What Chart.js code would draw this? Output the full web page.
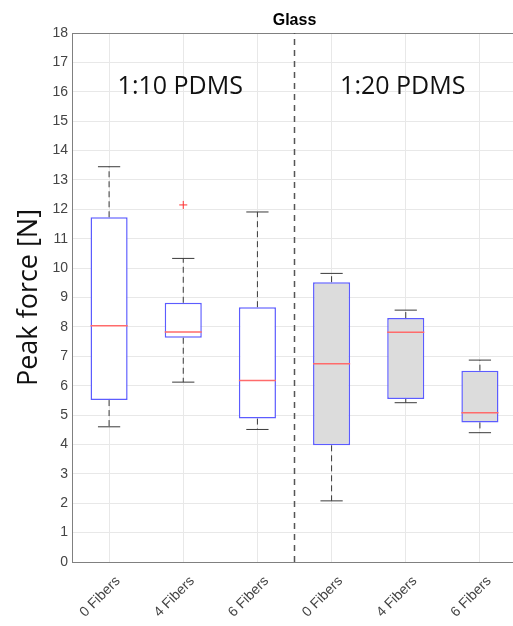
<!DOCTYPE html>
<html>
<head>
<meta charset="utf-8">
<script src="https://cdn.jsdelivr.net/npm/chart.js@4/dist/chart.umd.min.js"></script>
<style>
html,body{margin:0;padding:0;background:#fff;overflow:hidden;width:513px;height:626px;}
canvas{display:block;}
</style>
</head>
<body>
<canvas id="c" width="522" height="626"></canvas>
<script>
// ---- data ----
const categories = ['0 Fibers','4 Fibers','6 Fibers','0 Fibers','4 Fibers','6 Fibers'];
const whiskerLow  = [4.60, 6.12, 4.51, 2.08, 5.42, 4.40];
const quartile1   = [5.51, 7.63, 4.88, 3.97, 5.55, 4.75];
const medians     = [8.04, 7.83, 6.18, 6.75, 7.82, 5.08];
const quartile3   = [11.73, 8.82, 8.67, 9.52, 8.30, 6.51];
const whiskerHigh = [13.45, 10.33, 11.91, 9.82, 8.57, 6.87];
const outliers    = [{group: 2, value: 12.15}];
const groupNames  = ['1:10 PDMS', '1:20 PDMS'];
const groupOfCat  = [0, 0, 0, 1, 1, 1];
const yTicks      = [0,1,2,3,4,5,6,7,8,9,10,11,12,13,14,15,16,17,18];

// ---- styling ----
const BOX_HALF = 0.25, CAP_HALF = 0.15;
const boxFill = groupOfCat.map(g => g === 0 ? '#ffffff' : '#dcdcdc');
const pos = categories.map((c, i) => i + 1);

const medianPts = [], capPts = [], whiskerPts = [];
pos.forEach((x, i) => {
  medianPts.push({x: x - BOX_HALF, y: medians[i]}, {x: x + BOX_HALF, y: medians[i]}, {x: x, y: null});
  capPts.push({x: x - CAP_HALF, y: whiskerHigh[i]}, {x: x + CAP_HALF, y: whiskerHigh[i]}, {x: x, y: null});
  capPts.push({x: x - CAP_HALF, y: whiskerLow[i]}, {x: x + CAP_HALF, y: whiskerLow[i]}, {x: x, y: null});
  whiskerPts.push({x: x, y: quartile3[i]}, {x: x, y: whiskerHigh[i]}, {x: x, y: null});
  whiskerPts.push({x: x, y: quartile1[i]}, {x: x, y: whiskerLow[i]}, {x: x, y: null});
});
const splitX = 3.5;

const textPlugin = {
  id: 'groupText',
  afterDatasetsDraw(chart) {
    const {ctx, scales} = chart;
    ctx.save();
    ctx.fillStyle = '#111';
    ctx.font = '25px "Open Sans", "Noto Sans", sans-serif';
    ctx.textAlign = 'center';
    ctx.textBaseline = 'middle';
    groupNames.forEach((name, g) => {
      const idx = groupOfCat.map((v, i) => v === g ? pos[i] : null).filter(v => v !== null);
      const cx = (idx[0] + idx[idx.length - 1]) / 2;
      ctx.fillText(name, scales.x.getPixelForValue(cx) - 3, scales.y.getPixelForValue(16.18));
    });
    ctx.restore();
  }
};

const sansFont = '"Liberation Sans", Arial, sans-serif';

new Chart(document.getElementById('c'), {
  type: 'bar',
  data: {
    datasets: [
      {
        type: 'line', label: 'medians', data: medianPts, borderColor: '#ff6b6b', borderWidth: 1.5,
        pointRadius: 0, spanGaps: false, order: 0
      },
      {
        type: 'scatter', label: 'outliers',
        data: outliers.map(o => ({x: pos[o.group - 1], y: o.value})),
        pointStyle: 'cross', pointRadius: 4, borderColor: '#ff3030', borderWidth: 1, order: 0
      },
      {
        type: 'bar', label: 'boxes',
        data: pos.map((x, i) => ({x: x, y: [quartile1[i], quartile3[i]]})),
        backgroundColor: boxFill, borderColor: '#5c5cff', borderWidth: 1.5, borderSkipped: false,
        categoryPercentage: 1, barPercentage: 0.5, order: 5
      },
      {
        type: 'line', label: 'caps', data: capPts, borderColor: '#3a3a3a', borderWidth: 1,
        pointRadius: 0, spanGaps: false, order: 6
      },
      {
        type: 'line', label: 'whiskers', data: whiskerPts, borderColor: '#3a3a3a', borderWidth: 1,
        borderDash: [6, 4], pointRadius: 0, spanGaps: false, order: 6
      },
      {
        type: 'line', label: 'split', data: [{x: splitX, y: yTicks[0]}, {x: splitX, y: yTicks[yTicks.length - 1]}],
        borderColor: '#555', borderWidth: 1.5, borderDash: [6, 5], pointRadius: 0, order: 7
      }
    ]
  },
  options: {
    responsive: false,
    animation: false,
    layout: {padding: {left: 0, right: 4, top: 0, bottom: 0}},
    plugins: {
      legend: {display: false},
      tooltip: {enabled: false},
      title: {display: false}
    },
    scales: {
      x: {
        type: 'linear', min: 0.5, max: 6.5, offset: false,
        afterBuildTicks: s => { s.ticks = pos.map(v => ({value: v})); },
        afterFit: s => { s.height = 64; },
        ticks: {
          callback: v => categories[v - 1],
          minRotation: 45, maxRotation: 45, autoSkip: false,
          color: '#444', padding: 11, labelOffset: 9,
          font: {family: sansFont, size: 14}
        },
        grid: {color: '#e8e8e8', drawTicks: false, offset: false},
        border: {color: '#808080', width: 1}
      },
      x2: {
        type: 'linear', position: 'top', min: 0.5, max: 6.5, offset: false,
        afterFit: s => { s.height = 33; },
        ticks: {display: false},
        grid: {display: false, drawTicks: false, offset: false},
        border: {color: '#808080', width: 1},
        title: {
          display: true, text: 'Glass', color: '#000',
          font: {family: sansFont, size: 16, weight: 'bold', lineHeight: 1.2},
          padding: {top: 10.5, bottom: 0}
        }
      },
      y: {
        min: 0, max: 18,
        afterBuildTicks: s => { s.ticks = yTicks.map(v => ({value: v})); },
        afterFit: s => { s.width = 72; },
        ticks: {
          color: '#444', padding: 4,
          font: {family: sansFont, size: 14}
        },
        grid: {color: '#e8e8e8', drawTicks: false},
        border: {color: '#808080', width: 1},
        title: {
          display: true, text: 'Peak force [N]', color: '#111',
          font: {family: '"Open Sans", "Noto Sans", sans-serif', size: 27, lineHeight: 1.2},
          padding: {top: 13, bottom: 0},
          align: 'center'
        }
      }
    }
  },
  plugins: [textPlugin]
});
</script>
</body>
</html>
